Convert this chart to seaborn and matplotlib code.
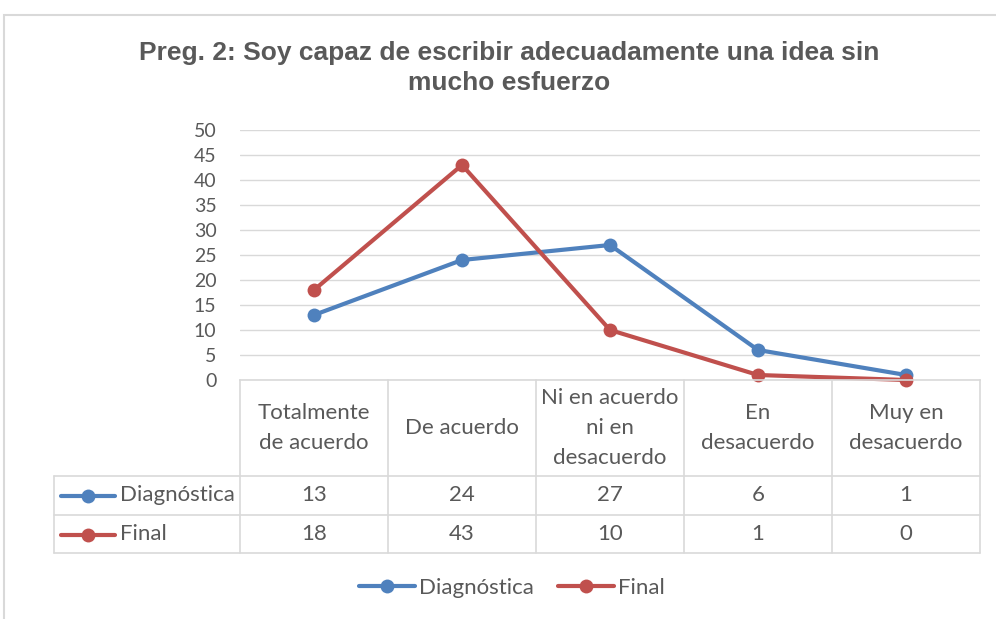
#import of relevant libraries
import numpy as np
import pandas as pd
import matplotlib.pyplot as plt
import matplotlib.transforms as mtransforms
from matplotlib.lines import Line2D
from matplotlib.patches import Rectangle
import seaborn as sns

#chart data
categories = ["Totalmente\nde acuerdo", "De acuerdo", "Ni en acuerdo\nni en\ndesacuerdo",
              "En\ndesacuerdo", "Muy en\ndesacuerdo"]
diagnostica = [13, 24, 27, 6, 1]
final = [18, 43, 10, 1, 0]
series_names = ["Diagnóstica", "Final"]
colors = ["#4f81bd", "#c0504d"]
title = "Preg. 2: Soy capaz de escribir adecuadamente una idea sin\nmucho esfuerzo"

text_color = "#595959"
grid_color = "#d9d9d9"
W, H = 996, 619

sns.set_theme(style="white")
plt.rcParams['font.family'] = ['Lato', 'DejaVu Sans']

#long form dataframe for seaborn
df = pd.DataFrame({
    'pos': list(range(len(categories))) * 2,
    'valor': diagnostica + final,
    'serie': [series_names[0]] * len(categories) + [series_names[1]] * len(categories),
})

fig = plt.figure(figsize=(W / 100, H / 100), dpi=100)
# plot area in pixels: x 240..980, y 130..380
ax = fig.add_axes([240 / W, 1 - 380 / H, 740 / W, 250 / H])

sns.lineplot(data=df, x='pos', y='valor', hue='serie', palette=colors,
             marker='o', markersize=10, markeredgewidth=0, linewidth=3,
             legend=False, ax=ax, clip_on=False)

ax.set_xlim(-0.5, len(categories) - 0.5)
ax.set_ylim(0, 50)
ax.set_yticks(range(0, 51, 5))
ax.set_xticks([])
ax.set_xlabel('')
ax.set_ylabel('')
ax.yaxis.grid(True, color=grid_color, linewidth=1)
ax.set_axisbelow(True)
for s in ['top', 'right', 'left']:
    ax.spines[s].set_visible(False)
ax.spines['bottom'].set_color(grid_color)
ax.spines['bottom'].set_linewidth(1.2)
ax.tick_params(axis='y', length=0, pad=17, labelsize=14, labelcolor=text_color)

#title
fig.text(509 / W, 1 - 68 / H, title, ha='center', va='center', fontsize=19,
         fontweight='bold', color=text_color, family=['Liberation Sans', 'DejaVu Sans'],
         linespacing=1.3)

#data table under the plot
trans = mtransforms.blended_transform_factory(ax.transData, ax.transAxes)
px = 740 / len(categories)
x_left = -0.5 - (240 - 54) / px
y_r1 = -(476 - 380) / 250
y_r2 = -(515 - 380) / 250
y_bot = -(553 - 380) / 250
lk = dict(color=grid_color, linewidth=1.2, transform=trans, clip_on=False)

for i in range(len(categories) + 1):
    ax.plot([i - 0.5, i - 0.5], [0, y_bot], **lk)
ax.plot([x_left, x_left], [y_r1, y_bot], **lk)
for yy in [y_r1, y_r2, y_bot]:
    ax.plot([x_left, len(categories) - 0.5], [yy, yy], **lk)

for i, cat in enumerate(categories):
    ax.text(i, y_r1 / 2, cat, transform=trans, ha='center', va='center',
            fontsize=16, color=text_color, linespacing=1.6)

for r, (name, vals, col) in enumerate(zip(series_names, [diagnostica, final], colors)):
    yc = [y_r1, y_r2][r] + (y_r2 - y_r1) / 2
    for i, v in enumerate(vals):
        ax.text(i, yc, str(v), transform=trans, ha='center', va='center',
                fontsize=16, color=text_color)
    # legend key in the row header
    key_x = x_left + np.array([7, 61]) / px
    ax.add_line(Line2D(key_x, [yc, yc], color=col, linewidth=3,
                       solid_capstyle='round', transform=trans, clip_on=False))
    ax.add_line(Line2D([key_x.mean()], [yc], color=col, marker='o', markersize=10,
                       markeredgewidth=0, transform=trans, clip_on=False))
    ax.text(x_left + 66 / px, yc, name, transform=trans, ha='left', va='center',
            fontsize=16, color=text_color)

#bottom legend
handles = [Line2D([], [], color=c, linewidth=3, marker='o', markersize=10,
                  markeredgewidth=0, solid_capstyle='round') for c in colors]
leg = fig.legend(handles, series_names, loc='center', bbox_to_anchor=(512 / W, 1 - 588 / H),
                 ncol=2, frameon=False, fontsize=16, handlelength=2.5,
                 handletextpad=0.2, columnspacing=1.1)
for t in leg.get_texts():
    t.set_color(text_color)

#chart border
fig.add_artist(Rectangle((4 / W, -0.1), 1.2, 1 - 15 / H + 0.1, transform=fig.transFigure,
                         fill=False, edgecolor=grid_color, linewidth=1.5))

plt.savefig('out.png', dpi=100)
